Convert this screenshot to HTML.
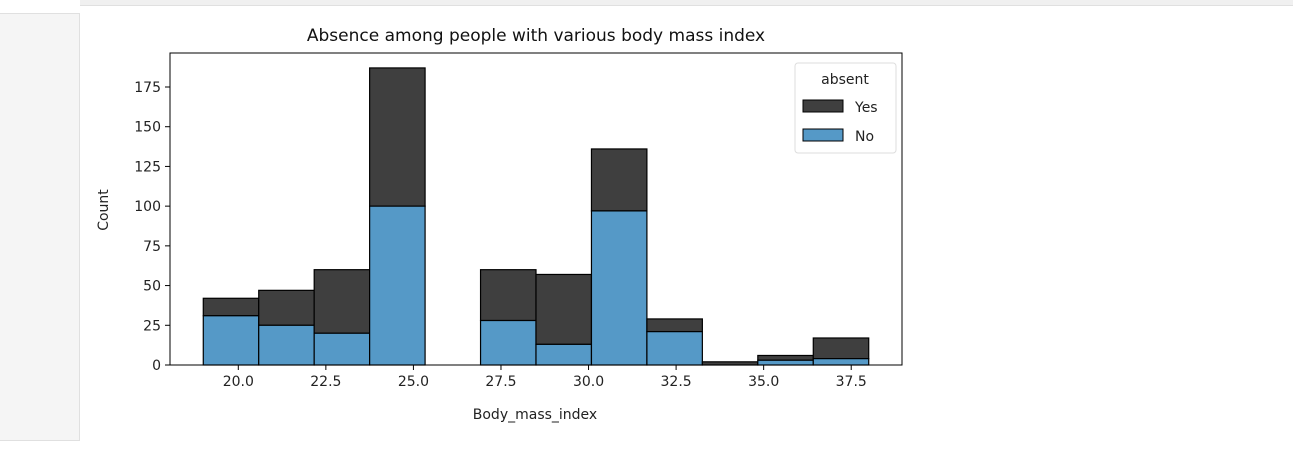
<!DOCTYPE html>
<html><head><meta charset="utf-8"><style>
body{margin:0;width:1293px;height:452px;background:#fff;overflow:hidden;font-family:"Liberation Sans","DejaVu Sans",sans-serif;}
</style></head><body>
<div style="position:absolute;left:0;top:13px;width:79px;height:426px;background:#f5f5f5;border-right:1px solid #e0e0e0;border-top:1px solid #e0e0e0;border-bottom:1px solid #e0e0e0"></div>
<div style="position:absolute;left:80px;top:0;width:1213px;height:5px;background:#f0f0f0;border-bottom:1px solid #e0e0e0"></div>
<svg id="chart" width="1293" height="452" style="position:absolute;left:0;top:0" font-family="DejaVu Sans, Liberation Sans, sans-serif"></svg>
<script>
const binEdgesStart = 19;
const binEdgesEnd = 38;
const noCounts = [31, 25, 20, 100, 0, 28, 13, 97, 21, 0, 3, 4];
const totalCounts = [42, 47, 60, 187, 0, 60, 57, 136, 29, 2, 6, 17];
const xTicks = [20.0, 22.5, 25.0, 27.5, 30.0, 32.5, 35.0, 37.5];
const yTicks = [0, 25, 50, 75, 100, 125, 150, 175];

const L=170,R=902,T=53,B=365;
const xmin=18.05,xmax=38.95,ymax=196.4;
const X=v=>L+(v-xmin)/(xmax-xmin)*(R-L);
const Y=v=>B-v/ymax*(B-T);
const svg=document.getElementById('chart');
const NS='http://www.w3.org/2000/svg';
function mk(tag,attrs,txt){const e=document.createElementNS(NS,tag);for(const k in attrs)e.setAttribute(k,attrs[k]);if(txt!==undefined)e.textContent=txt;svg.appendChild(e);return e;}
const n=noCounts.length,w=(binEdgesEnd-binEdgesStart)/n;
for(let i=0;i<n;i++){
  const x0=X(binEdgesStart+i*w),x1=X(binEdgesStart+(i+1)*w);
  const t=totalCounts[i],no=noCounts[i];
  if(t>no){const r=mk('rect',{x:x0,y:Y(t),width:x1-x0,height:Y(no)-Y(t),fill:'#3f3f3f',stroke:'#000','stroke-width':1.2});
  
  }
  const r2=mk('rect',{x:x0,y:Y(no),width:x1-x0,height:B-Y(no),fill:'#5599c7',stroke:'#000','stroke-width':1.2});
  
  
}
const ax=mk('rect',{x:L,y:T,width:R-L,height:B-T,fill:'none',stroke:'#000','stroke-width':1});


xTicks.forEach(v=>{const x=X(v);mk('line',{x1:x,x2:x,y1:B,y2:B+5,stroke:'#000'});
 const t=mk('text',{x:x,y:B+21,'text-anchor':'middle','font-size':14,fill:'#222'},v.toFixed(1));
 
 });
yTicks.forEach(v=>{const y=Y(v);mk('line',{x1:L-5,x2:L,y1:y,y2:y,stroke:'#000'});
 const t=mk('text',{x:L-9,y:y+5,'text-anchor':'end','font-size':14,fill:'#222'},v);
 
 });
let e=mk('text',{x:(L+R)/2,y:41,'text-anchor':'middle','font-size':17,fill:'#111'},'Absence among people with various body mass index');

e=mk('text',{x:535,y:419,'text-anchor':'middle','font-size':14,fill:'#222'},'Body_mass_index');

e=mk('text',{x:108,y:210,'text-anchor':'middle','font-size':14,fill:'#222',transform:'rotate(-90 108 210)'},'Count');

e=mk('rect',{x:795,y:63,width:101,height:90,rx:3,fill:'#fff','fill-opacity':0.8,stroke:'#ddd'});

mk('text',{x:845,y:84,'text-anchor':'middle','font-size':14,fill:'#222'},'absent');
e=mk('rect',{x:803,y:100,width:40,height:12,fill:'#3f3f3f',stroke:'#000'});

mk('text',{x:855,y:112,'font-size':14,fill:'#222'},'Yes');
e=mk('rect',{x:803,y:129,width:40,height:12,fill:'#5599c7',stroke:'#000'});

mk('text',{x:855,y:141,'font-size':14,fill:'#222'},'No');
</script>
</body></html>
